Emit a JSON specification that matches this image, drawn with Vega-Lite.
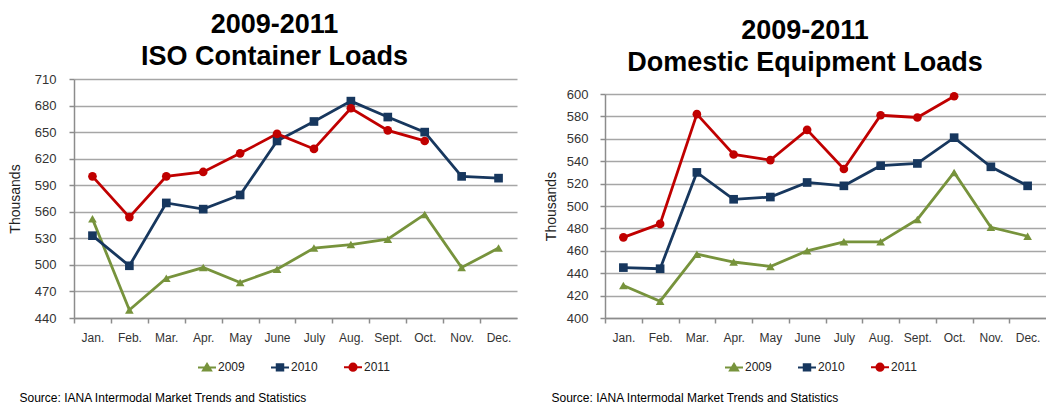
{
  "$schema": "https://vega.github.io/schema/vega-lite/v6.json",
  "background": "white",
  "padding": {"left": 8, "top": 11, "right": 0, "bottom": 0},
  "datasets": {
    "iso": [
      {"month": "Jan.", "year": "2009", "value": 552}, {"month": "Feb.", "year": "2009", "value": 449}, {"month": "Mar.", "year": "2009", "value": 485}, {"month": "Apr.", "year": "2009", "value": 497}, {"month": "May", "year": "2009", "value": 480}, {"month": "June", "year": "2009", "value": 495}, {"month": "July", "year": "2009", "value": 519}, {"month": "Aug.", "year": "2009", "value": 523}, {"month": "Sept.", "year": "2009", "value": 529}, {"month": "Oct.", "year": "2009", "value": 557}, {"month": "Nov.", "year": "2009", "value": 497}, {"month": "Dec.", "year": "2009", "value": 519},
      {"month": "Jan.", "year": "2010", "value": 533}, {"month": "Feb.", "year": "2010", "value": 499}, {"month": "Mar.", "year": "2010", "value": 570}, {"month": "Apr.", "year": "2010", "value": 563}, {"month": "May", "year": "2010", "value": 579}, {"month": "June", "year": "2010", "value": 640}, {"month": "July", "year": "2010", "value": 662}, {"month": "Aug.", "year": "2010", "value": 685}, {"month": "Sept.", "year": "2010", "value": 667}, {"month": "Oct.", "year": "2010", "value": 650}, {"month": "Nov.", "year": "2010", "value": 600}, {"month": "Dec.", "year": "2010", "value": 598},
      {"month": "Jan.", "year": "2011", "value": 600}, {"month": "Feb.", "year": "2011", "value": 554}, {"month": "Mar.", "year": "2011", "value": 600}, {"month": "Apr.", "year": "2011", "value": 605}, {"month": "May", "year": "2011", "value": 626}, {"month": "June", "year": "2011", "value": 648}, {"month": "July", "year": "2011", "value": 631}, {"month": "Aug.", "year": "2011", "value": 677}, {"month": "Sept.", "year": "2011", "value": 652}, {"month": "Oct.", "year": "2011", "value": 640}
    ],
    "dom": [
      {"month": "Jan.", "year": "2009", "value": 429}, {"month": "Feb.", "year": "2009", "value": 415}, {"month": "Mar.", "year": "2009", "value": 457}, {"month": "Apr.", "year": "2009", "value": 450}, {"month": "May", "year": "2009", "value": 446}, {"month": "June", "year": "2009", "value": 460}, {"month": "July", "year": "2009", "value": 468}, {"month": "Aug.", "year": "2009", "value": 468}, {"month": "Sept.", "year": "2009", "value": 488}, {"month": "Oct.", "year": "2009", "value": 530}, {"month": "Nov.", "year": "2009", "value": 481}, {"month": "Dec.", "year": "2009", "value": 473},
      {"month": "Jan.", "year": "2010", "value": 445}, {"month": "Feb.", "year": "2010", "value": 444}, {"month": "Mar.", "year": "2010", "value": 530}, {"month": "Apr.", "year": "2010", "value": 506}, {"month": "May", "year": "2010", "value": 508}, {"month": "June", "year": "2010", "value": 521}, {"month": "July", "year": "2010", "value": 518}, {"month": "Aug.", "year": "2010", "value": 536}, {"month": "Sept.", "year": "2010", "value": 538}, {"month": "Oct.", "year": "2010", "value": 561}, {"month": "Nov.", "year": "2010", "value": 535}, {"month": "Dec.", "year": "2010", "value": 518},
      {"month": "Jan.", "year": "2011", "value": 472}, {"month": "Feb.", "year": "2011", "value": 484}, {"month": "Mar.", "year": "2011", "value": 582}, {"month": "Apr.", "year": "2011", "value": 546}, {"month": "May", "year": "2011", "value": 541}, {"month": "June", "year": "2011", "value": 568}, {"month": "July", "year": "2011", "value": 533}, {"month": "Aug.", "year": "2011", "value": 581}, {"month": "Sept.", "year": "2011", "value": 579}, {"month": "Oct.", "year": "2011", "value": 598}
    ]
  },
  "config": {
    "view": {"stroke": null},
    "font": "Liberation Sans",
    "title": {"font": "Liberation Sans", "fontSize": 27, "fontWeight": "bold", "color": "#000000", "lineHeight": 32, "anchor": "middle", "frame": "bounds", "offset": 2},
    "axis": {
      "labelFont": "Liberation Sans", "labelColor": "#333333", "titleFont": "Liberation Sans", "titleColor": "#222222", "titleFontWeight": "normal",
      "domainColor": "#8c8c8c", "domainWidth": 1.5, "tickColor": "#8c8c8c", "tickWidth": 1.5, "tickSize": 5, "gridColor": "#a6a6a6", "gridWidth": 1.5
    },
    "legend": {
      "orient": "none", "direction": "horizontal", "title": null, "labelFont": "Liberation Sans", "labelFontSize": 12, "labelColor": "#222222",
      "symbolSize": 324, "symbolStrokeWidth": 2, "labelOffset": 1, "columnPadding": 22
    }
  },
  "resolve": {"scale": {"x": "independent", "y": "independent"}, "legend": {"color": "independent"}},
  "spacing": 27,
  "hconcat": [
    {
      "width": 443, "height": 239,
      "title": {"text": ["2009-2011", "ISO Container Loads"], "dx": 12},
      "data": {"name": "iso"},
      "encoding": {
        "x": {"field": "month", "type": "ordinal", "sort": ["Jan.", "Feb.", "Mar.", "Apr.", "May", "June", "July", "Aug.", "Sept.", "Oct.", "Nov.", "Dec."],
          "scale": {"type": "point", "padding": 0.5},
          "axis": {"labelAngle": 0, "labelFontSize": 12, "labelPadding": 9, "tickOffset": -18.46, "labelOffset": 18.46, "grid": false,
            "title": "Source: IANA Intermodal Market Trends and Statistics", "titleFontSize": 12, "titleColor": "#000000", "titleAnchor": "start", "titleAlign": "left", "titleBaseline": "alphabetic", "titleX": -55, "titleY": 83}},
        "y": {"field": "value", "type": "quantitative",
          "scale": {"domain": [440, 710], "nice": false, "zero": false},
          "axis": {"values": [440, 470, 500, 530, 560, 590, 620, 650, 680, 710], "title": "Thousands", "titleFontSize": 14, "labelFontSize": 13, "labelPadding": 13, "minExtent": 40, "maxExtent": 40, "titlePadding": 12, "domain": true, "grid": true}},
        "color": {"field": "year", "type": "nominal",
          "scale": {"domain": ["2009", "2010", "2011"], "range": ["#77933C", "#17375E", "#C00000"]},
          "legend": {"legendX": 123, "legendY": 278,
            "encode": {"symbols": {"update": {
              "shape": {"signal": "datum.value == '2009' ? 'M-1,0H1M0,-0.4L0.45,0.35L-0.45,0.35Z' : datum.value == '2010' ? 'M-1,0H1M-0.36,-0.36H0.36V0.36H-0.36Z' : 'M-1,0H1M-0.4,0A0.4,0.4 0 1,0 0.4,0A0.4,0.4 0 1,0 -0.4,0Z'"},
              "fill": {"signal": "scale('color', datum.value)"}, "stroke": {"signal": "scale('color', datum.value)"}, "fillOpacity": {"value": 1}, "strokeOpacity": {"value": 1}}}}}}
      },
      "layer": [
        {"mark": {"type": "line", "strokeWidth": 2.8}},
        {"mark": {"type": "point", "filled": true, "opacity": 1, "size": 75},
          "encoding": {"shape": {"field": "year", "type": "nominal", "scale": {"domain": ["2009", "2010", "2011"], "range": ["triangle-up", "square", "circle"]}, "legend": null}}}
      ]
    },
    {
      "width": 441, "height": 239,
      "title": {"text": ["2009-2011", "Domestic Equipment Loads"], "dx": 10},
      "data": {"name": "dom"},
      "encoding": {
        "x": {"field": "month", "type": "ordinal", "sort": ["Jan.", "Feb.", "Mar.", "Apr.", "May", "June", "July", "Aug.", "Sept.", "Oct.", "Nov.", "Dec."],
          "scale": {"type": "point", "padding": 0.5},
          "axis": {"labelAngle": 0, "labelFontSize": 12, "labelPadding": 9, "tickOffset": -18.375, "labelOffset": 18.375, "grid": false,
            "title": "Source: IANA Intermodal Market Trends and Statistics", "titleFontSize": 12, "titleColor": "#000000", "titleAnchor": "start", "titleAlign": "left", "titleBaseline": "alphabetic", "titleX": -54, "titleY": 83}},
        "y": {"field": "value", "type": "quantitative",
          "scale": {"domain": [400, 600], "nice": false, "zero": false, "range": [239, 15]},
          "axis": {"values": [400, 420, 440, 460, 480, 500, 520, 540, 560, 580, 600], "title": "Thousands", "titleFontSize": 14, "labelFontSize": 13, "labelPadding": 12, "minExtent": 39, "maxExtent": 39, "titlePadding": 8, "domain": true, "grid": true}},
        "color": {"field": "year", "type": "nominal",
          "scale": {"domain": ["2009", "2010", "2011"], "range": ["#77933C", "#17375E", "#C00000"]},
          "legend": {"legendX": 119, "legendY": 278,
            "encode": {"symbols": {"update": {
              "shape": {"signal": "datum.value == '2009' ? 'M-1,0H1M0,-0.4L0.45,0.35L-0.45,0.35Z' : datum.value == '2010' ? 'M-1,0H1M-0.36,-0.36H0.36V0.36H-0.36Z' : 'M-1,0H1M-0.4,0A0.4,0.4 0 1,0 0.4,0A0.4,0.4 0 1,0 -0.4,0Z'"},
              "fill": {"signal": "scale('color', datum.value)"}, "stroke": {"signal": "scale('color', datum.value)"}, "fillOpacity": {"value": 1}, "strokeOpacity": {"value": 1}}}}}}
      },
      "layer": [
        {"mark": {"type": "line", "strokeWidth": 2.8}},
        {"mark": {"type": "point", "filled": true, "opacity": 1, "size": 75},
          "encoding": {"shape": {"field": "year", "type": "nominal", "scale": {"domain": ["2009", "2010", "2011"], "range": ["triangle-up", "square", "circle"]}, "legend": null}}}
      ]
    }
  ]
}
